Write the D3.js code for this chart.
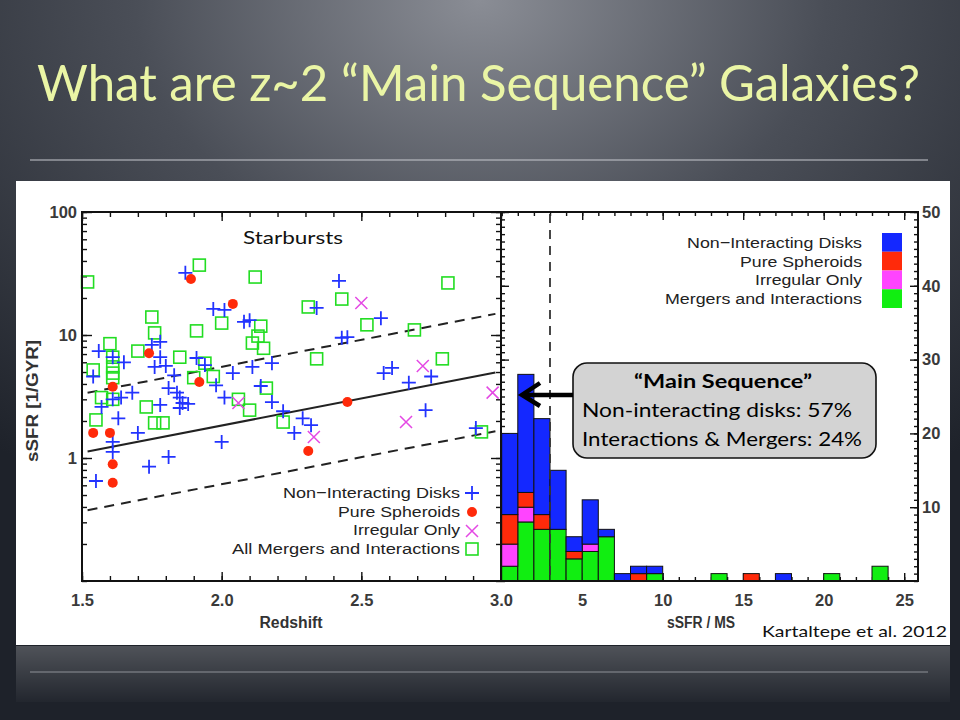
<!DOCTYPE html>
<html>
<head>
<meta charset="utf-8">
<script src="https://cdn.jsdelivr.net/npm/d3@7"></script>
<style>
body { margin: 0; background: #2a2e36; }
svg { display: block; }
</style>
</head>
<body>
<script>
// ___________ scatter: redshift vs sSFR [1/Gyr]
var diskZ = [1.87, 1.97, 2.01, 2.08, 2.10, 1.56, 1.61, 1.65, 1.75, 1.78, 1.78, 1.76, 1.80, 1.91, 1.94, 1.54,
	1.68, 1.83, 1.81, 1.84, 1.85, 1.86, 1.88, 1.85, 1.78, 1.57, 1.61, 1.64, 1.63, 1.61, 1.61, 1.70,
	1.74, 1.81, 1.55, 2.00, 2.04, 2.01, 1.98, 2.11, 2.18, 2.14, 2.18, 2.22, 2.42, 2.34, 2.57, 2.43,
	2.45, 2.58, 2.61, 2.67, 2.75, 2.73, 2.29, 2.32, 2.26, 2.91]
var diskSSFR = [32, 16.3, 16.0, 12.8, 13.2, 7.4, 6.6, 6.0, 8.3, 8.8, 6.6, 5.5, 5.6, 6.5, 5.7, 4.6,
	3.4, 4.7, 3.7, 3.4, 3.1, 2.8, 2.75, 2.55, 2.7, 2.6, 3.0, 3.1, 2.1, 1.35, 1.12, 1.6,
	0.85, 1.02, 0.65, 1.35, 4.9, 3.1, 3.9, 5.5, 5.9, 3.85, 2.85, 2.4, 27.5, 16.6, 13.7, 9.5,
	9.6, 4.9, 5.4, 4.1, 4.6, 2.45, 2.1, 1.85, 1.6, 1.75]

var spheroidZ = [1.89, 2.04, 1.74, 1.61, 1.92, 1.54, 1.60, 1.61, 1.61, 2.45, 2.31]
var spheroidSSFR = [28.5, 17.9, 7.1, 3.8, 4.15, 1.6, 1.6, 0.89, 0.63, 2.85, 1.14]

var irregularZ = [2.50, 2.72, 2.66, 2.33, 2.97, 2.06]
var irregularSSFR = [18.2, 5.6, 1.96, 1.48, 3.4, 2.8]

var mergerZ = [1.52, 1.92, 2.12, 1.75, 1.76, 1.91, 2.00, 2.14, 2.13, 2.11, 2.15, 1.60, 1.54, 1.61,
	1.61, 1.61, 1.61, 1.70, 1.85, 1.94, 1.90, 1.97, 1.57, 1.61, 1.73, 1.55, 1.76, 1.79, 2.06,
	2.10, 2.16, 2.22, 2.31, 2.43, 2.52, 2.34, 2.69, 2.81, 2.79, 2.93]
var mergerSSFR = [27, 37, 29.6, 14.0, 10.4, 10.8, 12.5, 11.8, 9.8, 8.6, 7.8, 8.5, 5.2, 6.6,
	5.5, 4.9, 4.5, 7.4, 6.6, 5.9, 4.5, 4.6, 3.1, 3.0, 2.6, 2.04, 1.93, 1.93, 3.0,
	2.45, 3.7, 1.96, 16.9, 19.6, 12.1, 6.4, 11.0, 26.5, 6.4, 1.63]

// main sequence line end points, dashed lines at x3 and /3
var msZ = [1.52, 2.98]
var msSSFR = [1.13, 4.95]
var msFactor = 3

// ___________ histogram of sSFR / MS, one bin per unit
var histBins = [0, 1, 2, 3, 4, 5, 6, 7, 8, 9, 10, 11, 12, 13, 14, 15, 16, 17, 18, 19, 20, 21, 22, 23, 24]
var histDisks     = [11, 16, 13, 8, 2, 6, 1, 1, 1, 1, 0, 0, 0, 0, 0, 0, 0, 1, 0, 0, 0, 0, 0, 0, 0]
var histSpheroids = [4, 2, 2, 0, 1, 0, 0, 0, 1, 0, 0, 0, 0, 0, 0, 1, 0, 0, 0, 0, 0, 0, 0, 0, 0]
var histIrregular = [3, 2, 0, 0, 0, 1, 0, 0, 0, 0, 0, 0, 0, 0, 0, 0, 0, 0, 0, 0, 0, 0, 0, 0, 0]
var histMergers   = [2, 8, 7, 7, 3, 4, 6, 0, 0, 1, 0, 0, 0, 1, 0, 0, 0, 0, 0, 0, 1, 0, 0, 2, 0]
var msCut = 3

// ___________ ticks
var zMajor = [1.5, 2.0, 2.5, 3.0]
var sMajor = [1, 10, 100]
var rMajorX = [5, 10, 15, 20, 25]
var rMajorY = [10, 20, 30, 40, 50]

var legendLeft = ['Non\u2212Interacting Disks', 'Pure Spheroids', 'Irregular Only', 'All Mergers and Interactions']
var legendRight = ['Non\u2212Interacting Disks', 'Pure Spheroids', 'Irregular Only', 'Mergers and Interactions']

var cBlue = '#1428ff', cRed = '#ff2a0a', cPink = '#ff44ff', cGreen = '#11ee11'
var idlFont = '"Liberation Sans", Arial, sans-serif'
var slideFont = 'Lato, "Open Sans", sans-serif'

// _____________________ svg
var svg = d3.select('body').append('svg').attr('width', 960).attr('height', 720)
var defs = svg.append('defs')

var bg = defs.append('radialGradient').attr('id', 'bg')
	.attr('cx', '50%').attr('cy', '0%').attr('fx', '50%').attr('fy', '0%').attr('r', '80%')
bg.append('stop').attr('offset', '0%').attr('stop-color', '#8a8d95')
bg.append('stop').attr('offset', '45%').attr('stop-color', '#4a4e57')
bg.append('stop').attr('offset', '100%').attr('stop-color', '#1e222a')

var refl = defs.append('linearGradient').attr('id', 'refl').attr('x1', 0).attr('y1', 0).attr('x2', 0).attr('y2', 1)
refl.append('stop').attr('offset', '0%').attr('stop-color', '#fff').attr('stop-opacity', 0.22)
refl.append('stop').attr('offset', '100%').attr('stop-color', '#fff').attr('stop-opacity', 0.02)

svg.append('rect').attr('width', 960).attr('height', 720).attr('fill', 'url(#bg)')

svg.append('text')
	.attr('x', 37).attr('y', 101)
	.attr('textLength', 883).attr('lengthAdjust', 'spacingAndGlyphs')
	.style('font', '50px ' + slideFont).attr('fill', '#eaf5a5')
	.text('What are z~2 \u201cMain Sequence\u201d Galaxies?')

svg.append('line').attr('x1', 30).attr('x2', 928).attr('y1', 160).attr('y2', 160)
	.attr('stroke', '#c8cacf').attr('stroke-width', 1.2)

// reflection band under the figure
svg.append('rect').attr('x', 16).attr('y', 646).attr('width', 934).attr('height', 56).attr('fill', 'url(#refl)')
svg.append('line').attr('x1', 30).attr('x2', 928).attr('y1', 672).attr('y2', 672)
	.attr('stroke', '#8e9198').attr('stroke-width', 1)

// white figure
svg.append('rect').attr('x', 16).attr('y', 181).attr('width', 934).attr('height', 464).attr('fill', '#fff')

var xL = d3.scaleLinear().domain([1.5, 3.0]).range([82, 501])
var yL = d3.scaleLog().domain([0.1, 100]).range([581, 212])
var xR = d3.scaleLinear().domain([0, 25]).range([501.7, 904.2])
var yR = d3.scaleLinear().domain([0, 50]).range([581, 212])

function styleAxis(g) {
	g.select('.domain').remove()
	g.selectAll('.tick line').attr('stroke', '#111').attr('stroke-width', 1.4)
	g.selectAll('.tick text').attr('fill', '#3a3a3a').style('font', 'bold 16.5px ' + idlFont)
}
function noLabel() { return '' }

// ___________ left panel ticks
var zMinor = d3.range(15, 31).map(function (d) { return d / 10 })
var sMinor = yL.ticks()

var axes = svg.append('g')
axes.append('g').attr('transform', 'translate(0,581)')
	.call(d3.axisBottom(xL).tickValues(zMinor).tickSize(-5).tickFormat(noLabel)).call(styleAxis)
axes.append('g').attr('transform', 'translate(0,581)')
	.call(d3.axisBottom(xL).tickValues(zMajor).tickSize(-9).tickPadding(13).tickFormat(d3.format('.1f'))).call(styleAxis)
axes.append('g').attr('transform', 'translate(0,212)')
	.call(d3.axisTop(xL).tickValues(zMinor).tickSize(-5).tickFormat(noLabel)).call(styleAxis)
axes.append('g').attr('transform', 'translate(0,212)')
	.call(d3.axisTop(xL).tickValues(zMajor).tickSize(-9).tickFormat(noLabel)).call(styleAxis)
axes.append('g').attr('transform', 'translate(82,0)')
	.call(d3.axisLeft(yL).tickValues(sMinor).tickSize(-5).tickFormat(noLabel)).call(styleAxis)
axes.append('g').attr('transform', 'translate(82,0)')
	.call(d3.axisLeft(yL).tickValues(sMajor).tickSize(-10).tickPadding(5).tickFormat(d3.format('d'))).call(styleAxis)
axes.append('g').attr('transform', 'translate(501,0)')
	.call(d3.axisRight(yL).tickValues(sMinor).tickSize(-5).tickFormat(noLabel)).call(styleAxis)
axes.append('g').attr('transform', 'translate(501,0)')
	.call(d3.axisRight(yL).tickValues(sMajor).tickSize(-10).tickFormat(noLabel)).call(styleAxis)

// ___________ right panel ticks
var rMinorX = d3.range(0, 26)
var rMinorY = d3.range(0, 51)
axes.append('g').attr('transform', 'translate(0,581)')
	.call(d3.axisBottom(xR).tickValues(rMinorX).tickSize(-4).tickFormat(noLabel)).call(styleAxis)
axes.append('g').attr('transform', 'translate(0,581)')
	.call(d3.axisBottom(xR).tickValues(rMajorX).tickSize(-8).tickPadding(13)).call(styleAxis)
axes.append('g').attr('transform', 'translate(0,212)')
	.call(d3.axisTop(xR).tickValues(rMinorX).tickSize(-4).tickFormat(noLabel)).call(styleAxis)
axes.append('g').attr('transform', 'translate(0,212)')
	.call(d3.axisTop(xR).tickValues(rMajorX).tickSize(-8).tickFormat(noLabel)).call(styleAxis)
axes.append('g').attr('transform', 'translate(501,0)')
	.call(d3.axisLeft(yR).tickValues(rMinorY).tickSize(-4).tickFormat(noLabel)).call(styleAxis)
axes.append('g').attr('transform', 'translate(501,0)')
	.call(d3.axisLeft(yR).tickValues(rMajorY).tickSize(-8).tickFormat(noLabel)).call(styleAxis)
axes.append('g').attr('transform', 'translate(918,0)')
	.call(d3.axisRight(yR).tickValues(rMinorY).tickSize(-4).tickFormat(noLabel)).call(styleAxis)
axes.append('g').attr('transform', 'translate(918,0)')
	.call(d3.axisRight(yR).tickValues(rMajorY).tickSize(-8).tickPadding(4)).call(styleAxis)

// ___________ main sequence lines
var msLine = d3.line()
	.x(function (d) { return xL(d[0]) })
	.y(function (d) { return yL(d[1]) })
var msPts = msZ.map(function (z, i) { return [z, msSSFR[i]] })
var lines = svg.append('g').attr('fill', 'none').attr('stroke', '#222').attr('stroke-width', 2)
lines.append('path').attr('d', msLine(msPts))
lines.append('path').attr('stroke-dasharray', '10,7')
	.attr('d', msLine(msPts.map(function (p) { return [p[0], p[1] * msFactor] })))
lines.append('path').attr('stroke-dasharray', '10,7')
	.attr('d', msLine(msPts.map(function (p) { return [p[0], p[1] / msFactor] })))

// ___________ scatter marks
var marks = svg.append('g')
marks.selectAll('rect.merger')
	.data(mergerZ.map(function (z, i) { return [z, mergerSSFR[i]] }))
	.enter().append('rect').classed('merger', true)
		.attr('x', function (d) { return xL(d[0]) - 6 })
		.attr('y', function (d) { return yL(d[1]) - 6 })
		.attr('width', 12).attr('height', 12)
		.style('fill', 'none').style('stroke', '#22dd22').style('stroke-width', 1.6)

marks.selectAll('path.disk')
	.data(diskZ.map(function (z, i) { return [z, diskSSFR[i]] }))
	.enter().append('path').classed('disk', true)
		.attr('transform', function (d) { return 'translate(' + xL(d[0]) + ',' + yL(d[1]) + ')' })
		.attr('d', 'M-7,0H7M0,-7V7')
		.style('stroke', '#2233ff').style('stroke-width', 1.8)

marks.selectAll('circle.spheroid')
	.data(spheroidZ.map(function (z, i) { return [z, spheroidSSFR[i]] }))
	.enter().append('circle').classed('spheroid', true)
		.attr('cx', function (d) { return xL(d[0]) })
		.attr('cy', function (d) { return yL(d[1]) })
		.attr('r', 5)
		.style('fill', cRed)

marks.selectAll('path.irregular')
	.data(irregularZ.map(function (z, i) { return [z, irregularSSFR[i]] }))
	.enter().append('path').classed('irregular', true)
		.attr('transform', function (d) { return 'translate(' + xL(d[0]) + ',' + yL(d[1]) + ')' })
		.attr('d', 'M-6,-6L6,6M-6,6L6,-6')
		.style('stroke', '#e448e4').style('stroke-width', 1.5)

// ___________ stacked histogram
var histTable = histBins.map(function (b, i) {
	return { bin: b, mergers: histMergers[i], irregular: histIrregular[i], spheroids: histSpheroids[i], disks: histDisks[i] }
})
var layers = d3.stack().keys(['mergers', 'irregular', 'spheroids', 'disks'])(histTable)
var layerColor = { mergers: cGreen, irregular: cPink, spheroids: cRed, disks: cBlue }

var hist = svg.append('g')
layers.forEach(function (layer) {
	hist.selectAll('rect.' + layer.key)
		.data(layer.filter(function (d) { return d[1] > d[0] }))
		.enter().append('rect').classed(layer.key, true)
			.attr('x', function (d) { return xR(d.data.bin) })
			.attr('width', function (d) { return xR(d.data.bin + 1) - xR(d.data.bin) })
			.attr('y', function (d) { return yR(d[1]) })
			.attr('height', function (d) { return yR(d[0]) - yR(d[1]) })
			.style('fill', layerColor[layer.key])
			.style('stroke', '#111').style('stroke-width', 1)
})

svg.append('line')
	.attr('x1', xR(msCut)).attr('x2', xR(msCut)).attr('y1', 214).attr('y2', 580)
	.attr('stroke', '#333').attr('stroke-width', 1.8).attr('stroke-dasharray', '9,7')

// frames
svg.append('rect').attr('x', 82).attr('y', 212).attr('width', 419).attr('height', 369)
	.attr('fill', 'none').attr('stroke', '#111').attr('stroke-width', 2)
svg.append('rect').attr('x', 501).attr('y', 212).attr('width', 417).attr('height', 369)
	.attr('fill', 'none').attr('stroke', '#111').attr('stroke-width', 2)

// ___________ axis titles
svg.append('text').attr('transform', 'translate(38,401) rotate(-90)')
	.attr('text-anchor', 'middle').attr('textLength', 122).attr('lengthAdjust', 'spacingAndGlyphs')
	.style('font', 'bold 16px ' + idlFont).attr('fill', '#333')
	.text('sSFR [1/GYR]')
svg.append('text').attr('x', 291).attr('y', 628)
	.attr('text-anchor', 'middle').attr('textLength', 63).attr('lengthAdjust', 'spacingAndGlyphs')
	.style('font', 'bold 16px ' + idlFont).attr('fill', '#333')
	.text('Redshift')
svg.append('text').attr('x', 701).attr('y', 628)
	.attr('text-anchor', 'middle').attr('textLength', 68).attr('lengthAdjust', 'spacingAndGlyphs')
	.style('font', 'bold 16px ' + idlFont).attr('fill', '#333')
	.text('sSFR / MS')

// ___________ legends
var legL = svg.append('g')
var legLen = [177, 122, 107, 228]
legendLeft.forEach(function (t, i) {
	legL.append('text').attr('x', 460).attr('y', 498 + i * 18.7)
		.attr('text-anchor', 'end').attr('textLength', legLen[i]).attr('lengthAdjust', 'spacingAndGlyphs')
		.style('font', '15.5px ' + idlFont).attr('fill', '#222').text(t)
})
legL.append('path').attr('transform', 'translate(472,493)').attr('d', 'M-7,0H7M0,-7V7')
	.style('stroke', '#2233ff').style('stroke-width', 1.8)
legL.append('circle').attr('cx', 472).attr('cy', 512).attr('r', 5).style('fill', cRed)
legL.append('path').attr('transform', 'translate(472,531)').attr('d', 'M-6,-6L6,6M-6,6L6,-6')
	.style('stroke', '#e448e4').style('stroke-width', 1.5)
legL.append('rect').attr('x', 466).attr('y', 543).attr('width', 12).attr('height', 12)
	.style('fill', 'none').style('stroke', '#22dd22').style('stroke-width', 1.6)

var legR = svg.append('g')
var legRLen = [175, 122, 107, 197]
var legRColor = [cBlue, cRed, cPink, cGreen]
legendRight.forEach(function (t, i) {
	legR.append('text').attr('x', 862).attr('y', 248 + i * 18.5)
		.attr('text-anchor', 'end').attr('textLength', legRLen[i]).attr('lengthAdjust', 'spacingAndGlyphs')
		.style('font', '15.5px ' + idlFont).attr('fill', '#222').text(t)
	legR.append('rect').attr('x', 882).attr('y', 233 + i * 18.75).attr('width', 20).attr('height', 18.75)
		.style('fill', legRColor[i])
})

svg.append('text').attr('x', 243).attr('y', 244)
	.attr('textLength', 100).attr('lengthAdjust', 'spacingAndGlyphs')
	.style('font', '17px ' + slideFont).attr('fill', '#111').text('Starbursts')

// ___________ callout
var call = svg.append('g')
call.append('rect').attr('x', 573).attr('y', 363).attr('width', 303).attr('height', 95).attr('rx', 14)
	.attr('fill', '#d3d3d3').attr('stroke', '#111').attr('stroke-width', 1.6)
call.append('text').attr('x', 634).attr('y', 388)
	.attr('textLength', 178).attr('lengthAdjust', 'spacingAndGlyphs')
	.style('font', 'bold 19px ' + slideFont).attr('fill', '#000').text('\u201cMain Sequence\u201d')
call.append('text').attr('x', 582).attr('y', 417)
	.attr('textLength', 270).attr('lengthAdjust', 'spacingAndGlyphs')
	.style('font', '19px ' + slideFont).attr('fill', '#000').text('Non-interacting disks:  57%')
call.append('text').attr('x', 582).attr('y', 446)
	.attr('textLength', 280).attr('lengthAdjust', 'spacingAndGlyphs')
	.style('font', '19px ' + slideFont).attr('fill', '#000').text('Interactions & Mergers: 24%')

call.append('line').attr('x1', 573).attr('x2', 524).attr('y1', 395).attr('y2', 395)
	.attr('stroke', '#000').attr('stroke-width', 4.5)
call.append('path').attr('d', 'M540,383L522,395L540,406')
	.attr('fill', 'none').attr('stroke', '#000').attr('stroke-width', 4.5).attr('stroke-linejoin', 'miter')

svg.append('text').attr('x', 762).attr('y', 637)
	.attr('textLength', 185).attr('lengthAdjust', 'spacingAndGlyphs')
	.style('font', '16px ' + slideFont).attr('fill', '#111').text('Kartaltepe et al. 2012')
</script>
</body>
</html>
